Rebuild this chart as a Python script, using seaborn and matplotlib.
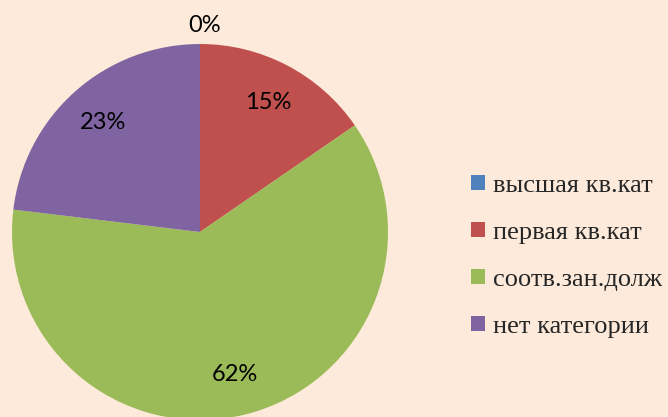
import matplotlib
matplotlib.use("Agg")
import matplotlib.pyplot as plt
import seaborn as sns

categories = ["высшая кв.кат", "первая кв.кат", "соотв.зан.долж", "нет категории"]
shares = [0.0, 15.4, 61.5, 23.1]
colors = ["#4F81BD", "#C0504D", "#9BBB59", "#8064A2"]

BG = "#FDEADA"

sns.set_theme(style="white")
plt.rcParams["font.family"] = ["Lato", "DejaVu Sans"]

fig = plt.figure(figsize=(6.68, 4.17), dpi=100, facecolor=BG)
ax = fig.add_axes([0, 0, 1, 1])
ax.set_facecolor(BG)

cx, cy, r = 200, 417 - 232, 188
wedges, texts, autotexts = ax.pie(
    shares,
    colors=sns.color_palette(colors),
    startangle=90,
    counterclock=False,
    center=(cx, cy),
    radius=r,
    autopct="%.0f%%",
    pctdistance=0.78,
    wedgeprops=dict(linewidth=0),
    textprops=dict(fontsize=17, color="black"),
    frame=True,
)
# zero slice label sits just above the pie
autotexts[0].set_position((cx + 5, cy + r * 1.1))

ax.set_xlim(0, 668)
ax.set_ylim(0, 417)
ax.set_aspect("equal")
ax.axis("off")

leg = ax.legend(
    wedges,
    categories,
    loc="center left",
    bbox_to_anchor=(0.69, 0.385),
    frameon=False,
    prop=dict(family="Liberation Serif", size=19),
    handlelength=0.5,
    handleheight=0.5,
    handletextpad=0.3,
    labelspacing=0.95,
    borderaxespad=0,
)

fig.savefig("out.png", dpi=100, facecolor=BG)
